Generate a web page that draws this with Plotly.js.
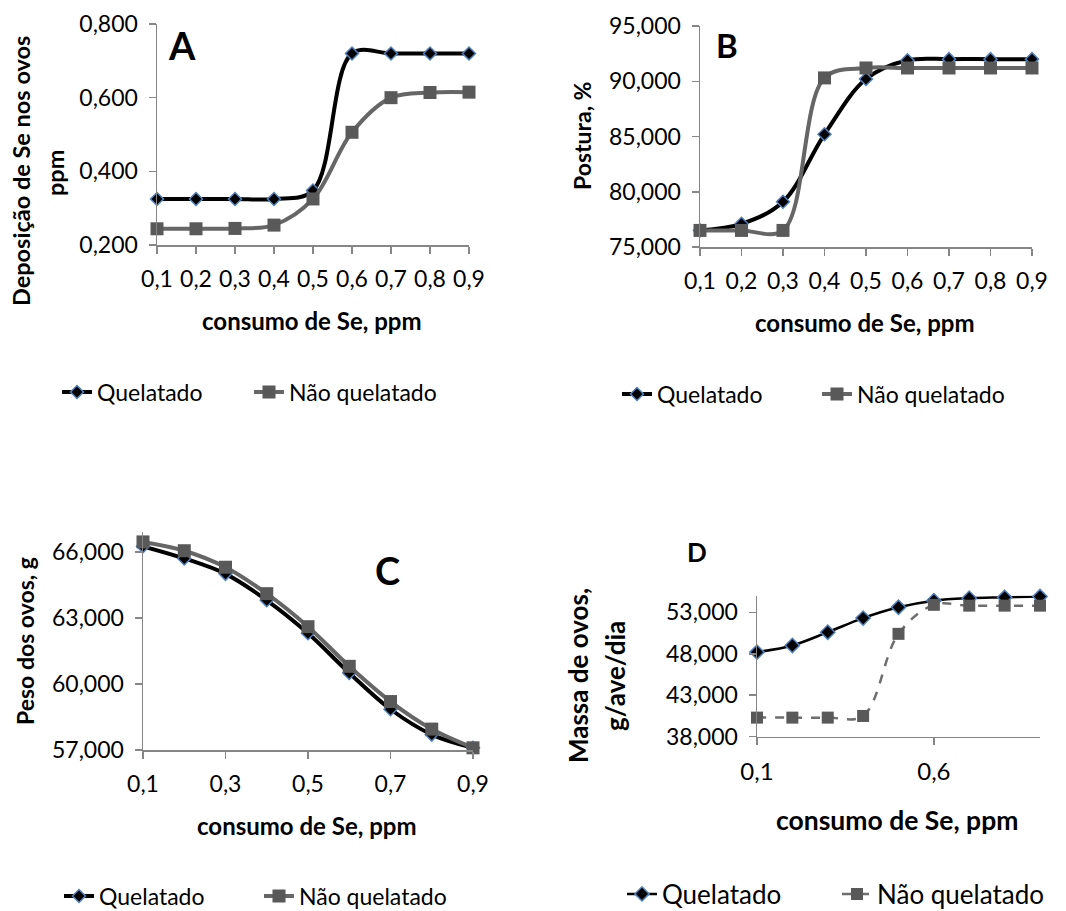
<!DOCTYPE html>
<html><head><meta charset="utf-8">
<script src="https://cdn.plot.ly/plotly-3.0.1.min.js"></script>
<style>html,body{margin:0;padding:0;background:#fff}#chart{width:1066px;height:911px}</style>
</head><body><div id="chart"></div>
<script>
// ---- data ----
const consumo = [0.1,0.2,0.3,0.4,0.5,0.6,0.7,0.8,0.9];
const seriesNames = ["Quelatado","Não quelatado"];
// A: Deposição de Se nos ovos, ppm
const aQuelatado = [0.325,0.325,0.325,0.325,0.348,0.720,0.720,0.720,0.720];
const aNaoQuel   = [0.244,0.244,0.245,0.254,0.325,0.506,0.600,0.614,0.615];
// B: Postura, %
const bQuelatado = [76.5,77.1,79.1,85.2,90.2,91.9,92.0,92.0,92.0];
const bNaoQuel   = [76.5,76.5,76.5,90.3,91.2,91.2,91.2,91.2,91.2];
// C: Peso dos ovos, g
const cQuelatado = [66.25,65.7,65.0,63.8,62.3,60.5,58.85,57.7,57.1];
const cNaoQuel   = [66.45,66.05,65.3,64.1,62.6,60.8,59.2,57.95,57.1];
// D: Massa de ovos, g/ave/dia
const dQuelatado = [48.2,49.0,50.6,52.3,53.6,54.4,54.7,54.8,54.9];
const dNaoQuel   = [40.3,40.3,40.3,40.5,50.4,53.9,53.8,53.8,53.8];
// tick values
const xTicksAB = [0.1,0.2,0.3,0.4,0.5,0.6,0.7,0.8,0.9];
const xTicksC  = [0.1,0.3,0.5,0.7,0.9];
const xTicksD  = [0.1,0.6];
const yTicksA  = [0.2,0.4,0.6,0.8];
const yTicksB  = [75,80,85,90,95];
const yTicksC  = [57,60,63,66];
const yTicksD  = [38,43,48,53];

// ---- layout helpers ----
const W=1066,H=911;
const fx=p=>p/W, fy=p=>1-p/H;
const FONT="Lato, 'Open Sans', sans-serif";
const AX='#868686';

function xax(dom,ticks,fmt,anchor,size){
  return {domain:[fx(dom[0]),fx(dom[1])],range:[0.1,0.9],tickmode:'array',tickvals:ticks,tickformat:fmt,anchor:anchor,
    showgrid:false,zeroline:false,showline:true,linecolor:AX,linewidth:1.5,ticks:'outside',ticklen:7,tickcolor:AX,tickwidth:1.5,
    ticklabelstandoff:6,tickfont:{family:FONT,size:size||23,color:'#000'},fixedrange:true};
}
function yax(dom,range,ticks,fmt,anchor){
  return {domain:[fy(dom[1]),fy(dom[0])],range:range,tickmode:'array',tickvals:ticks,tickformat:fmt,anchor:anchor,
    showgrid:false,zeroline:false,showline:true,linecolor:AX,linewidth:1.5,ticks:'outside',ticklen:7,tickcolor:AX,tickwidth:1.5,
    ticklabelstandoff:6,tickfont:{family:FONT,size:23,color:'#000'},fixedrange:true};
}
function quel(y,xa,ya,lg,w,ms){
  return {x:consumo,y:y,xaxis:xa,yaxis:ya,legend:lg,name:seriesNames[0],type:'scatter',mode:'lines+markers',cliponaxis:false,
    line:{color:'#000',width:w,shape:'spline',smoothing:1},
    marker:{symbol:'diamond',size:ms,color:'#000',line:{color:'#4f81bd',width:1.5}}};
}
function nao(y,xa,ya,lg,w,ms,dash){
  return {x:consumo,y:y,xaxis:xa,yaxis:ya,legend:lg,name:seriesNames[1],type:'scatter',mode:'lines+markers',cliponaxis:false,
    line:{color:dash?'#6e6e6e':'#666666',width:w,shape:'spline',smoothing:1,dash:dash||'solid'},
    marker:{symbol:'square',size:ms,color:'#595959',line:{color:'#595959',width:0}}};
}

const data=[
  quel(aQuelatado,'x','y','legend',4,10), nao(aNaoQuel,'x','y','legend',4,13),
  quel(bQuelatado,'x2','y2','legend2',4,10), nao(bNaoQuel,'x2','y2','legend2',4,13),
  quel(cQuelatado,'x3','y3','legend3',4,10), nao(cNaoQuel,'x3','y3','legend3',4,13),
  quel(dQuelatado,'x4','y4','legend4',2.5,11), nao(dNaoQuel,'x4','y4','legend4',2.5,12,'dash')
];

function leg(x,y,size,ew){
  return {orientation:'h',x:fx(x),y:fy(y),xanchor:'left',yanchor:'middle',font:{family:FONT,size:size||23,color:'#000'},
    bgcolor:'rgba(0,0,0,0)',itemwidth:30,entrywidth:ew||150,entrywidthmode:'pixels',tracegroupgap:0,itemclick:false,itemdoubleclick:false};
}
function ann(text,x,y,size,bold,angle){
  return {text:bold?'<b>'+text+'</b>':text,x:fx(x),y:fy(y),xref:'paper',yref:'paper',showarrow:false,
    xanchor:'center',yanchor:'middle',textangle:angle||0,font:{family:FONT,size:size,color:'#000'}};
}

const layout={
  width:W,height:H,margin:{l:0,r:0,t:0,b:0,autoexpand:false},paper_bgcolor:'#fff',plot_bgcolor:'rgba(0,0,0,0)',
  separators:',.',hovermode:false,showlegend:true,
  xaxis: xax([157,469],xTicksAB,'.1f','y'), yaxis: yax([24,245],[0.2,0.8],yTicksA,'.3f','x'),
  xaxis2:xax([700,1032],xTicksAB,'.1f','y2'), yaxis2:yax([26,247],[75,95],yTicksB,'.3f','x2'),
  xaxis3:xax([143,473],xTicksC,'.1f','y3'), yaxis3:yax([532,750],[57,66.9],yTicksC,'.3f','x3'),
  xaxis4:xax([757,1040],xTicksD,'.1f','y4',24), yaxis4:yax([595.7,736.7],[38,55],yTicksD,'.3f','x4'),
  legend:leg(57,392,23,147), legend2:leg(617,394,23,155), legend3:leg(59,896,23,155), legend4:leg(622,894,26,170),
  annotations:[
    ann('A',182,45,38,true), ann('B',727,45,33,true), ann('C',387,570,38,true), ann('D',697,552,26,true),
    ann('Deposição de Se nos ovos',21,171,23.5,true,-90), ann('ppm',55,173,23.5,true,-90),
    ann('Postura, %',582,136,23,true,-90),
    ann('Peso dos ovos, g',25,641,23,true,-90),
    ann('Massa de ovos,',578,676,26,true,-90), ann('g/ave/dia',615,676,26,true,-90),
    ann('consumo de Se, ppm',312,320,24,true), ann('consumo de Se, ppm',865,322,24,true),
    ann('consumo de Se, ppm',307,825,24,true), ann('consumo de Se, ppm',897,820,26.5,true)
  ]
};
data.forEach(t=>{t.hoverinfo='skip';});
Plotly.newPlot('chart',data,layout,{staticPlot:true,displayModeBar:false});
</script></body></html>
